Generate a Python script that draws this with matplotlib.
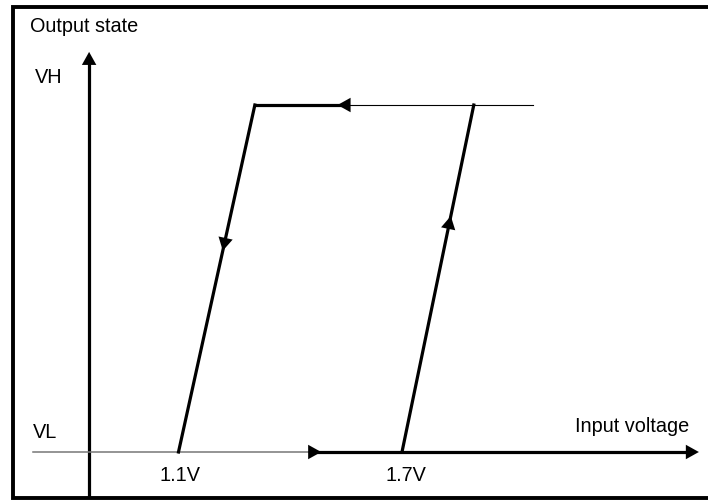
import matplotlib
matplotlib.use("Agg")
import matplotlib.pyplot as plt

plt.rcParams['font.family'] = ['Liberation Sans', 'DejaVu Sans']

# ---- data (volts / logical output state) ----
v_low = 1.1          # falling threshold
v_high = 1.7         # rising threshold
skew = 0.205         # horizontal offset of transition top vs bottom
state_L = 0.0
state_H = 1.0
x_axis_start = 0.709
x_axis_mid = 1.453
x_axis_end = 2.497
top_line_end = 2.052
top_arrow = 1.547
y_axis_x = 0.860
y_axis_bottom = -0.127
y_axis_top = 1.153
tick_labels = ["1.1V", "1.7V"]

fig = plt.figure(figsize=(7.08, 5.01), dpi=100)
ax = fig.add_axes([0, 0, 1, 1])
ax.set_xlim(0.6208, 2.5215)
ax.set_ylim(-0.1412, 1.3026)
ax.axis('off')

# frame (right side falls outside the picture)
ax.plot([1.01, 0.019, 0.019, 1.01], [0.986, 0.986, 0.006, 0.006],
        transform=ax.transAxes, color='black', lw=2.8, clip_on=False, solid_joinstyle='miter')

thick = 2.3
thin = 0.8
HEAD = dict(arrowstyle='-|>,head_length=0.36,head_width=0.2', mutation_scale=26,
            color='black', shrinkA=0, shrinkB=0, lw=0.01)

def head(tip, base):
    ax.annotate('', xy=tip, xytext=base, arrowprops=HEAD)

# y axis
ax.plot([y_axis_x, y_axis_x], [y_axis_bottom, y_axis_top - 0.02], color='black', lw=thick)
head((y_axis_x, y_axis_top), (y_axis_x, y_axis_top - 0.05))

# x axis: thin part then thick part
ax.plot([x_axis_start, x_axis_mid], [state_L, state_L], color='#777777', lw=thin + 0.3)
ax.plot([x_axis_mid, x_axis_end - 0.02], [state_L, state_L], color='black', lw=thick)
head((x_axis_mid + 0.03, state_L), (x_axis_mid, state_L))
head((x_axis_end, state_L), (x_axis_end - 0.05, state_L))

# transitions
ax.plot([v_low, v_low + skew], [state_L, state_H], color='black', lw=thick)
ax.plot([v_high, v_high + skew * 0.94], [state_L, state_H], color='black', lw=thick)
# arrows on transitions
f_down = 0.615
f_up = 0.645
xd = v_low + skew * f_down
head((xd - skew * 0.035, f_down - 0.035), (xd, f_down))
xu = v_high + skew * 0.94 * f_up
head((xu + skew * 0.94 * 0.035, f_up + 0.035), (xu, f_up))

# top line: thick part then thin part
ax.plot([v_low + skew, top_arrow], [state_H, state_H], color='black', lw=thick,
        solid_capstyle='projecting')
ax.plot([top_arrow, top_line_end], [state_H, state_H], color='black', lw=thin)
head((top_arrow - 0.02, state_H), (top_arrow + 0.02, state_H))

# text
fs = 14.3
ax.text(0.701, 1.225, "Output state", fontsize=fs, ha='left', va='center')
ax.text(0.714, 1.078, "VH", fontsize=fs, ha='left', va='center')
ax.text(0.708, 0.055, "VL", fontsize=fs, ha='left', va='center')
ax.text(2.472, 0.074, "Input voltage", fontsize=fs, ha='right', va='center')
ax.text(v_low + 0.005, -0.068, tick_labels[0], fontsize=fs, ha='center', va='center')
ax.text(v_high + 0.01, -0.068, tick_labels[1], fontsize=fs, ha='center', va='center')

fig.savefig("out.png", dpi=100)
